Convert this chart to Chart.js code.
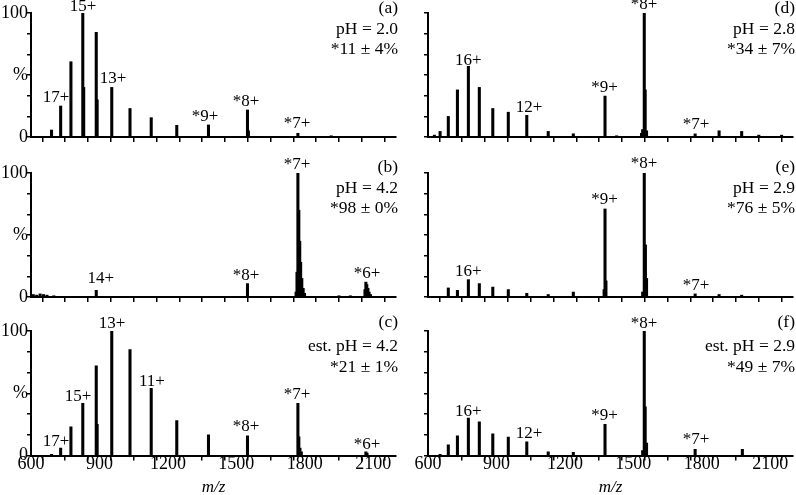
<!DOCTYPE html>
<html>
<head>
<meta charset="utf-8">
<script src="https://cdn.jsdelivr.net/npm/chart.js@4.4.0/dist/chart.umd.min.js"></script>
<style>
body{margin:0;background:#fff}
#wrap{position:relative;width:796px;height:495px;overflow:hidden;background:#fff}
#wrap canvas{position:absolute}
</style>
</head>
<body>
<div id="wrap"></div>
<script>
// Six ESI mass spectra, m/z vs relative intensity (%)

const mzLabelled = [600, 900, 1200, 1500, 1800, 2100]
const yTickVals = [0, 100/6, 200/6, 50, 400/6, 500/6, 100]
const yTickText = ['0', '', '', '%', '', '', '100']

// (a) pH 2.0
const aMz  = [690, 730, 775, 827, 831, 886, 890, 954, 1034, 1127, 1239, 1378, 1549, 1553, 1770, 1916]
const aInt = [5.6, 25, 60.7, 100, 40, 84.4, 30, 40, 23, 15.6, 9.4, 9.7, 21.8, 5, 3, 1]
const aLabText = ['17+', '15+', '13+', '*9+', '*8+', '*7+']
const aLabMz = [710, 828, 960, 1363, 1543, 1766]
const aLabY  = [31.7, 105, 47, 16.4, 28.5, 10.7]
const aNotes = ['(a)', 'pH = 2.0', '*11 ± 4%']

// (b) pH 4.2
const bMz  = [610, 625, 640, 655, 670, 700, 886, 1549, 1762, 1766, 1770, 1774, 1778, 1782, 1787, 1793, 1799, 1950, 2000, 2064, 2068, 2072, 2077, 2082, 2088]
const bInt = [2, 1.5, 2.5, 2, 1.5, 1, 5.4, 10.8, 4, 20, 100, 70, 45, 28, 15, 7, 3, 1, 1, 6, 12, 10, 7, 4, 2]
const bLabText = ['14+', '*8+', '*7+', '*6+']
const bLabMz = [906, 1543, 1766, 2073]
const bLabY  = [14.7, 17.6, 106.7, 18.8]
const bNotes = ['(b)', 'pH = 4.2', '*98 ± 0%']

// (c) estimated pH 4.2
const cMz  = [690, 730, 775, 827, 886, 890, 954, 1034, 1127, 1239, 1378, 1549, 1770, 1774, 1779, 1785, 2068, 2073]
const cInt = [1, 5.9, 23, 42, 72, 25, 100, 85, 54, 28, 16.6, 15.8, 42, 15, 6, 3, 3, 2]
const cLabText = ['17+', '15+', '13+', '11+', '*8+', '*7+', '*6+']
const cLabMz = [710, 806, 955, 1130, 1543, 1766, 2073]
const cLabY  = [11.2, 47.3, 105.6, 59.3, 23.3, 48.7, 8.6]
const cNotes = ['(c)', 'est. pH = 4.2', '*21 ± 1%']

// (d) pH 2.8
const dMz  = [628, 653, 689, 729, 777, 825, 884, 952, 1033, 1127, 1237, 1376, 1427, 1536, 1541, 1548, 1552, 1558, 1771, 1876, 1975, 2050, 2150]
const dInt = [1.5, 4.5, 16.6, 38, 57, 40, 23, 20, 17.5, 4.5, 2.6, 33, 1, 3, 6, 100, 38, 5, 2.5, 5, 4.5, 1.5, 1.5]
const dLabText = ['16+', '12+', '*9+', '*8+', '*7+']
const dLabMz = [777, 1043, 1374, 1547, 1775]
const dLabY  = [61.5, 23.4, 39.8, 106.7, 10]
const dNotes = ['(d)', 'pH = 2.8', '*34 ± 7%']

// (e) pH 2.9
const eMz  = [689, 729, 777, 825, 884, 952, 1033, 1127, 1237, 1372, 1376, 1380, 1541, 1548, 1553, 1558, 1771, 1876, 1975]
const eInt = [7.3, 5.4, 14, 10.8, 8, 6, 3, 2, 4, 6, 71, 13, 4, 100, 42, 15, 2.5, 2, 1.5]
const eLabText = ['16+', '*9+', '*8+', '*7+']
const eLabMz = [777, 1374, 1547, 1775]
const eLabY  = [20.3, 78.4, 107.5, 9.5]
const eNotes = ['(e)', 'pH = 2.9', '*76 ± 5%']

// (f) estimated pH 2.9
const fMz  = [653, 689, 729, 777, 825, 884, 952, 1033, 1127, 1237, 1376, 1541, 1548, 1552, 1558, 1771, 1978]
const fInt = [1, 8.6, 15.8, 30, 27, 17.4, 14.7, 11, 3, 2.5, 25, 4, 100, 39, 10, 5, 5]
const fLabText = ['16+', '12+', '*9+', '*8+', '*7+']
const fLabMz = [777, 1043, 1374, 1547, 1775]
const fLabY  = [35.3, 17.4, 31.8, 105.7, 12.6]
const fNotes = ['(f)', 'est. pH = 2.9', '*49 ± 7%']

const panels = [
  {col:0, row:0, mz:aMz, inten:aInt, labText:aLabText, labMz:aLabMz, labY:aLabY, notes:aNotes},
  {col:0, row:1, mz:bMz, inten:bInt, labText:bLabText, labMz:bLabMz, labY:bLabY, notes:bNotes},
  {col:0, row:2, mz:cMz, inten:cInt, labText:cLabText, labMz:cLabMz, labY:cLabY, notes:cNotes},
  {col:1, row:0, mz:dMz, inten:dInt, labText:dLabText, labMz:dLabMz, labY:dLabY, notes:dNotes},
  {col:1, row:1, mz:eMz, inten:eInt, labText:eLabText, labMz:eLabMz, labY:eLabY, notes:eNotes},
  {col:1, row:2, mz:fMz, inten:fInt, labText:fLabText, labMz:fLabMz, labY:fLabY, notes:fNotes}
]

// layout of the grid (pixels)
const cols = [
  {left:0, width:400, yw:31, padR:4},
  {left:400, width:396, yw:28, padR:3}
]
const rows = [
  {top:0, height:150, padT:13, plotH:124, noteY:[0, 20.5, 40.5]},
  {top:145, height:165, padT:28, plotH:124, noteY:[-1, 20, 39.5]},
  {top:305, height:200, padT:26, plotH:124.5, noteY:[-4, 20, 40.5], bottom:true}
]

const SERIF = '"Liberation Serif", "Times New Roman", serif'
Chart.defaults.font.family = SERIF
Chart.defaults.font.size = 17
Chart.defaults.color = '#000'

function textPlugin(p, row){
  return {
    id:'peakText',
    afterDatasetsDraw(chart){
      const {ctx, chartArea, scales} = chart
      ctx.save()
      ctx.fillStyle = '#000'
      ctx.font = '17px ' + SERIF
      ctx.textAlign = 'center'
      ctx.textBaseline = 'middle'
      p.labText.forEach((t, i)=>{
        ctx.fillText(t, scales.x.getPixelForValue(p.labMz[i]), scales.y.getPixelForValue(p.labY[i]))
      })
      ctx.font = '17.5px ' + SERIF
      ctx.textAlign = 'right'
      ctx.textBaseline = 'alphabetic'
      p.notes.forEach((t, i)=>{
        ctx.fillText(t, chartArea.right + 2, chartArea.top + row.noteY[i])
      })
      ctx.restore()
    }
  }
}

const wrap = document.getElementById('wrap')

panels.forEach(p=>{
  const col = cols[p.col]
  const row = rows[p.row]
  const cv = document.createElement('canvas')
  cv.width = col.width
  cv.height = row.height
  cv.style.left = col.left + 'px'
  cv.style.top = row.top + 'px'
  wrap.appendChild(cv)

  new Chart(cv, {
    type:'bar',
    data:{datasets:[{
      data:p.mz.map((m, i)=>({x:m, y:p.inten[i]})),
      backgroundColor:'#000',
      borderWidth:0,
      barThickness:2.4
    }]},
    options:{
      responsive:false,
      animation:false,
      layout:{padding:{left:0, right:col.padR, top:row.padT, bottom:0}},
      plugins:{legend:{display:false}, tooltip:{enabled:false}},
      scales:{
        x:{
          type:'linear', min:600, max:2200, offset:false,
          afterFit:s=>{ s.height = row.height - row.padT - row.plotH },
          ticks:{
            display:!!row.bottom, stepSize:100, autoSkip:false, maxRotation:0, padding:-7,
            font:{size:18},
            callback:v=>mzLabelled.includes(v) ? String(v) : ''
          },
          grid:{drawOnChartArea:false, drawTicks:true, tickLength:5, color:'#000', lineWidth:1.5},
          border:{display:true, color:'#000', width:2},
          title:{display:!!row.bottom, text:'m/z', font:{style:'italic', size:17}, padding:{top:0, bottom:7}}
        },
        y:{
          min:0, max:100,
          afterFit:s=>{ s.width = col.yw },
          afterBuildTicks:s=>{ s.ticks = yTickVals.map(v=>({value:v})) },
          ticks:{display:p.col === 0, autoSkip:false, padding:-1, font:{size:18}, callback:(v, i)=>yTickText[i]},
          grid:{drawOnChartArea:false, drawTicks:true, tickLength:4, color:'#000', lineWidth:1.5},
          border:{display:true, color:'#000', width:2}
        }
      }
    },
    plugins:[textPlugin(p, row)]
  })
})
</script>
</body>
</html>
